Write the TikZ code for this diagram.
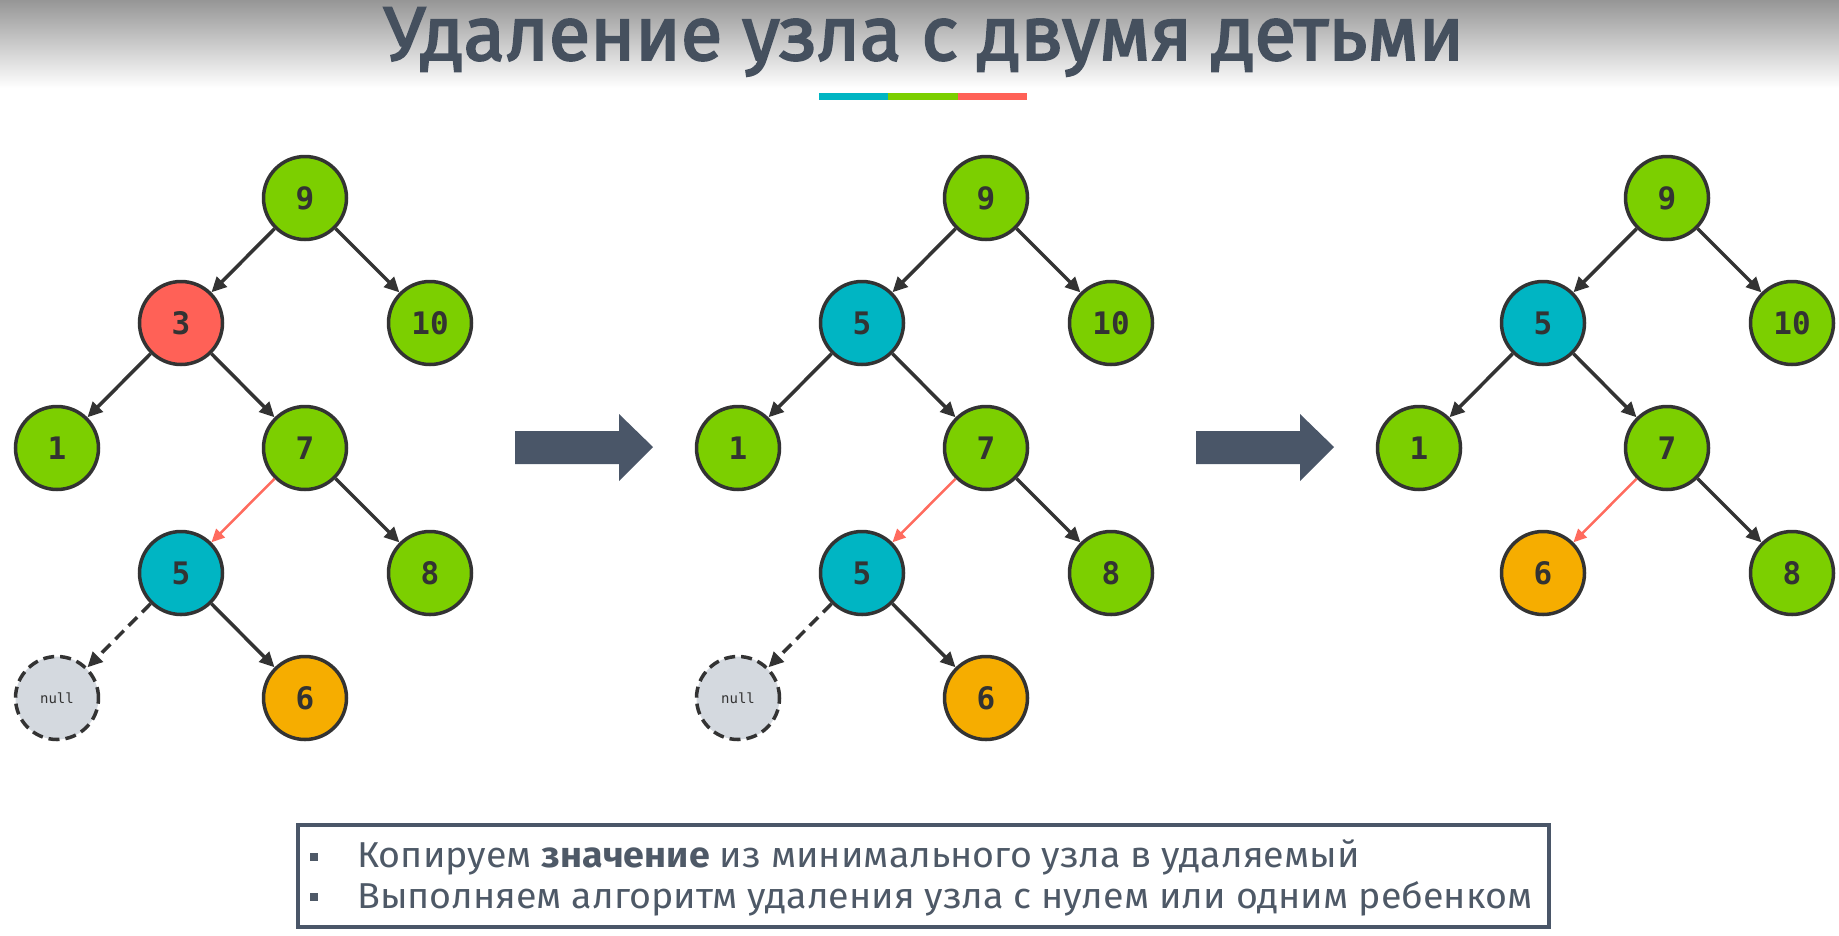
\documentclass[tikz,border=0pt]{standalone}
\usepackage{fontspec}
\setmainfont{Fira Sans}
\newfontfamily\monofont{DejaVu Sans Mono}
\newfontfamily\titlefont[FakeBold=2.6]{Fira Sans}
\usetikzlibrary{arrows.meta}
\definecolor{edgec}{HTML}{333333}
\definecolor{titlec}{HTML}{45505E}
\definecolor{slate}{HTML}{4A5668}
\definecolor{boxtxt}{HTML}{4E5967}
\definecolor{gnode}{HTML}{7CCF00}
\definecolor{rnode}{HTML}{FF6157}
\definecolor{cnode}{HTML}{00B5C3}
\definecolor{onode}{HTML}{F6AD00}
\definecolor{nnode}{HTML}{D4D9DF}
\definecolor{redge}{HTML}{FF6B5E}
\definecolor{barc}{HTML}{00B5C3}
\definecolor{barg}{HTML}{7CCF00}
\definecolor{barr}{HTML}{FF6157}
\definecolor{topgray}{HTML}{969696}
\tikzset{
  tnode/.style={circle, draw=edgec, line width=3.5pt, minimum size=83pt, inner sep=0pt,
    font=\monofont\bfseries\fontsize{31}{31}\selectfont, text=edgec},
  gn/.style={tnode, fill=gnode},
  rn/.style={tnode, fill=rnode},
  cn/.style={tnode, fill=cnode},
  on/.style={tnode, fill=onode},
  nn/.style={tnode, fill=nnode, dash pattern=on 11pt off 6pt,
    font=\monofont\fontsize{14}{14}\selectfont},
  edge/.style={line width=3.5pt, draw=edgec, -{Triangle[length=15pt,width=14pt]}},
  redgestyle/.style={line width=2.5pt, draw=redge, -{Triangle[length=13pt,width=12pt]}},
  dedge/.style={edge, dash pattern=on 12pt off 7pt},
  blockarrow/.style={fill=slate},
  boxtext/.style={anchor=base west, inner sep=0pt, text=boxtxt, font=\fontsize{36}{36}\selectfont},
  bullet/.style={fill=boxtxt, minimum size=8pt, inner sep=0pt}
}
\begin{document}
\begin{tikzpicture}[x=1pt,y=-1pt]
\useasboundingbox (0,0) rectangle (1839,935);
\shade[top color=topgray, bottom color=white] (0,0) rectangle (1839,88);
% title
\node[anchor=base, inner sep=0pt, text=titlec, font=\titlefont\fontsize{76}{76}\selectfont] (title) at (924,60) {Удаление узла с двумя детьми};
\fill[barc] (819,93) rectangle (888,100);
\fill[barg] (888,93) rectangle (958,100);
\fill[barr] (958,93) rectangle (1027,100);
% tree 1
\node[gn] (a9) at (305,198) {9};
\node[rn] (a3) at (181,323) {3};
\node[gn] (a10) at (430,323) {10};
\node[gn] (a1) at (57,448) {1};
\node[gn] (a7) at (305,448) {7};
\node[cn] (a5) at (181,573) {5};
\node[gn] (a8) at (430,573) {8};
\node[nn] (anull) at (57,698) {null};
\node[on] (a6) at (305,698) {6};
\draw[edge] (a9) -- (a3);
\draw[edge] (a9) -- (a10);
\draw[edge] (a3) -- (a1);
\draw[edge] (a3) -- (a7);
\draw[redgestyle] (a7) -- (a5);
\draw[edge] (a7) -- (a8);
\draw[dedge] (a5) -- (anull);
\draw[edge] (a5) -- (a6);
% tree 2
\node[gn] (b9) at (986,198) {9};
\node[cn] (b5) at (862,323) {5};
\node[gn] (b10) at (1111,323) {10};
\node[gn] (b1) at (738,448) {1};
\node[gn] (b7) at (986,448) {7};
\node[cn] (b5l) at (862,573) {5};
\node[gn] (b8) at (1111,573) {8};
\node[nn] (bnull) at (738,698) {null};
\node[on] (b6) at (986,698) {6};
\draw[edge] (b9) -- (b5);
\draw[edge] (b9) -- (b10);
\draw[edge] (b5) -- (b1);
\draw[edge] (b5) -- (b7);
\draw[redgestyle] (b7) -- (b5l);
\draw[edge] (b7) -- (b8);
\draw[dedge] (b5l) -- (bnull);
\draw[edge] (b5l) -- (b6);
% tree 3
\node[gn] (c9) at (1667,198) {9};
\node[cn] (c5) at (1543,323) {5};
\node[gn] (c10) at (1792,323) {10};
\node[gn] (c1) at (1419,448) {1};
\node[gn] (c7) at (1667,448) {7};
\node[on] (c6) at (1543,573) {6};
\node[gn] (c8) at (1792,573) {8};
\draw[edge] (c9) -- (c5);
\draw[edge] (c9) -- (c10);
\draw[edge] (c5) -- (c1);
\draw[edge] (c5) -- (c7);
\draw[redgestyle] (c7) -- (c6);
\draw[edge] (c7) -- (c8);
% block arrows
\fill[blockarrow] (515,431) -- (619,431) -- (619,414) -- (653,447) -- (619,481) -- (619,464) -- (515,464) -- cycle;
\fill[blockarrow] (1196,431) -- (1300,431) -- (1300,414) -- (1334,447) -- (1300,481) -- (1300,464) -- (1196,464) -- cycle;
% text box
\draw[slate, line width=3.5pt] (298,825) rectangle (1549,927);
\node[bullet] (b1m) at (314,857) {};
\node[bullet] (b2m) at (314,897) {};
\node[boxtext] (t1) at (357,867) {\scalebox{1.045}[1]{Копируем \textbf{значение} из минимального узла в удаляемый}};
\node[boxtext] (t2) at (357,908) {\scalebox{1.045}[1]{Выполняем алгоритм удаления узла с нулем или одним ребенком}};
\end{tikzpicture}
\end{document}
